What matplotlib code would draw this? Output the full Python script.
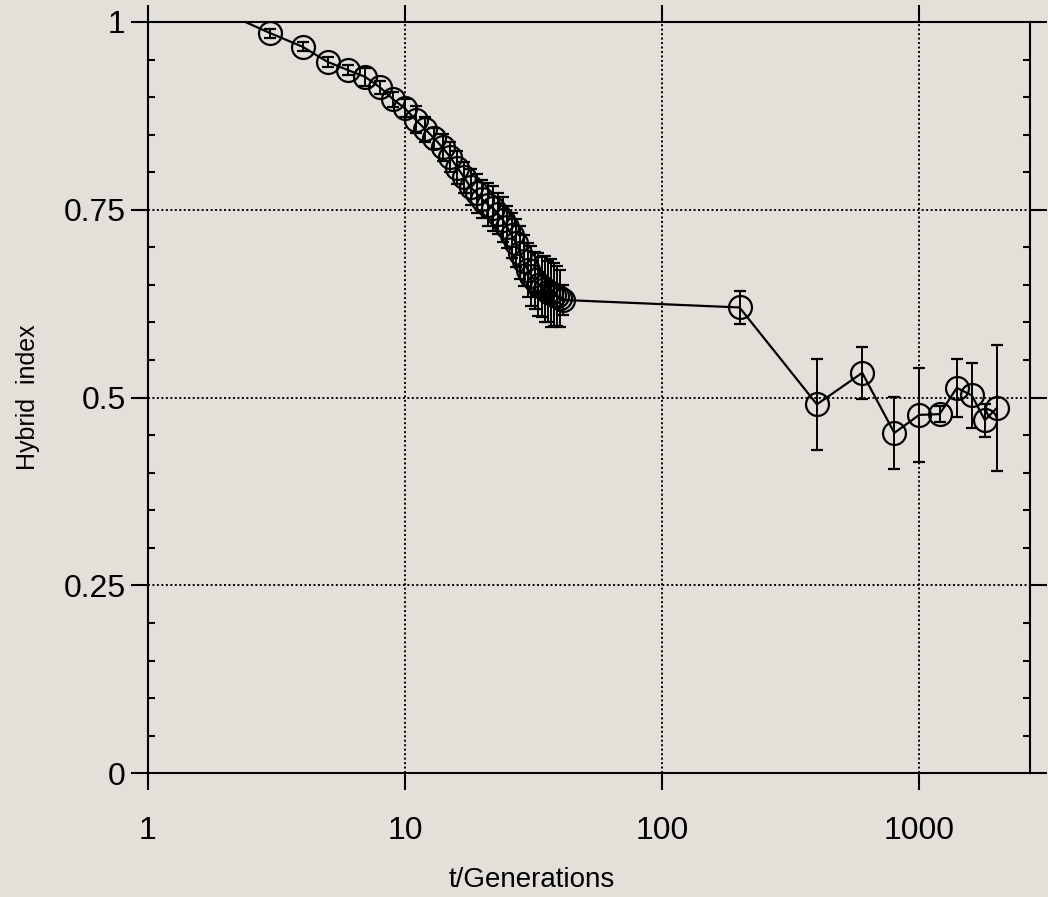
import numpy as np
import matplotlib.pyplot as plt
from matplotlib.ticker import FixedLocator, NullLocator, MultipleLocator

# generations and hybrid index
t_early = [2, 3, 4, 5, 6, 7, 8, 9, 10, 11, 12, 13, 14, 15, 16, 17, 18, 19, 20, 21,
           22, 23, 24, 25, 26, 27, 28, 29, 30, 31, 32, 33, 34, 35, 36, 37, 38, 39, 40, 41]
h_early = [1.012, 0.985, 0.967, 0.947, 0.936, 0.927, 0.913, 0.897, 0.885, 0.870,
           0.857, 0.845, 0.833, 0.820, 0.806, 0.793, 0.780, 0.772, 0.764, 0.757,
           0.752, 0.745, 0.737, 0.727, 0.716, 0.706, 0.693, 0.682, 0.670, 0.662,
           0.656, 0.650, 0.647, 0.644, 0.641, 0.639, 0.637, 0.635, 0.632, 0.630]
e_early = [0.0, 0.006, 0.006, 0.007, 0.007, 0.012, 0.009, 0.010, 0.012, 0.018,
           0.017, 0.014, 0.018, 0.020, 0.022, 0.020, 0.024, 0.026, 0.025, 0.028,
           0.030, 0.027, 0.030, 0.028, 0.030, 0.032, 0.035, 0.034, 0.036, 0.040,
           0.038, 0.042, 0.040, 0.044, 0.041, 0.045, 0.042, 0.040, 0.038, 0.020]

t_late = [200, 400, 600, 800, 1000, 1200, 1400, 1600, 1800, 2000]
h_late = [0.620, 0.491, 0.533, 0.453, 0.477, 0.478, 0.513, 0.503, 0.470, 0.486]
e_late = [0.022, 0.061, 0.035, 0.048, 0.063, 0.011, 0.039, 0.043, 0.022, 0.084]

t = t_early + t_late
h = h_early + h_late
err = e_early + e_late

xticks = [1, 10, 100, 1000]
xticklabels = ['1', '10', '100', '1000']
yticks = [0, 0.25, 0.5, 0.75, 1]
yticklabels = ['0', '0.25', '0.5', '0.75', '1']

plt.rcParams['font.family'] = ['Liberation Sans', 'DejaVu Sans']
bg = '#e2e0d9'

fig = plt.figure(figsize=(10.48, 8.97), dpi=100, facecolor=bg)
ax = fig.add_axes([0.141, 0.138, 0.842, 0.8375])
ax.set_facecolor(bg)

ax.errorbar(t, h, yerr=err, fmt='-o', color='black', mfc='none', mec='black',
            ms=16.5, mew=1.6, lw=1.6, elinewidth=1.4, capsize=4, capthick=1.4,
            markevery=slice(1, None), zorder=3)

ax.set_xscale('log')
ax.set_xlim(1, 2700)
ax.set_ylim(0, 1)

ax.xaxis.set_major_locator(FixedLocator(xticks))
ax.set_xticklabels(xticklabels)
ax.xaxis.set_minor_locator(NullLocator())
ax.set_yticks(yticks)
ax.set_yticklabels(yticklabels)
ax.yaxis.set_minor_locator(MultipleLocator(0.05))

ax.tick_params(axis='x', which='major', direction='out', length=12, width=1.5,
               top=True, bottom=True, labeltop=False, pad=19, labelsize=23)
ax.tick_params(axis='y', which='major', direction='out', length=12, width=1.5,
               left=True, right=True, pad=4, labelsize=23)
ax.tick_params(axis='y', which='minor', direction='in', length=5, width=1.5,
               left=True, right=True)

for s in ax.spines.values():
    s.set_linewidth(1.5)

ax.grid(True, which='major', linestyle=(0, (1, 1.3)), color='black', linewidth=1.4)

ax.set_xlabel('t/Generations', fontsize=20, va='center')
ax.set_ylabel('Hybrid  index', fontsize=18, va='center')
ax.xaxis.set_label_coords(0.435, -0.142)
ax.yaxis.set_label_coords(-0.136, 0.5)

fig.savefig('out.png', dpi=100, facecolor=bg)
